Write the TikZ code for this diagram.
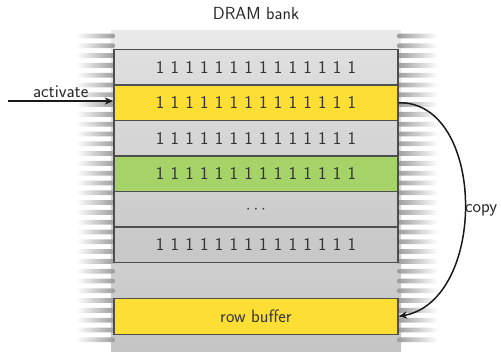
\documentclass[tikz,border=0pt]{standalone}
\usetikzlibrary{arrows.meta}
\definecolor{rowline}{RGB}{78,78,78}
\definecolor{rowyellow}{RGB}{253,222,52}
\definecolor{rowgreen}{RGB}{165,211,104}
\definecolor{banktop}{RGB}{234,234,234}
\definecolor{bankbottom}{RGB}{196,196,196}
\definecolor{stripe}{RGB}{155,155,155}
\newcommand\labelfont{\fontsize{18}{22}\selectfont\sffamily}
\newcommand\titlefont{\fontsize{17.5}{21}\selectfont\sffamily}
\newcommand\bitsfont{\labelfont\spaceskip=6.3pt\relax}
\begin{document}
\begin{tikzpicture}[x=1pt,y=-1pt,
  rowbox/.style={draw=rowline, line width=1.2pt, minimum width=284pt,
    minimum height=35.5pt, inner sep=0pt, font=\bitsfont, text=black!80},
  grayrow/.style={rowbox, fill=black, fill opacity=0.035, text opacity=1},
  yellowrow/.style={rowbox, fill=rowyellow},
  greenrow/.style={rowbox, fill=rowgreen},
  lbl/.style={font=\labelfont, inner sep=1pt, text=black!85},
  conn/.style={line width=1.5pt, black!90, -{Stealth[length=8.5pt,width=7pt,inset=2.5pt]}},
]
\useasboundingbox (0,0) rectangle (501,352);

% bank background
\node[minimum width=290pt, minimum height=321pt, inner sep=0pt,
  top color=banktop, bottom color=bankbottom, shading angle=0]
  (bank) at (256,191.5) {};

% wires entering the bank on both sides
\foreach \i in {0,...,31}{
  \pgfmathsetmacro{\yy}{36+9.8*\i}
  \shade[left color=white, right color=stripe, rounded corners=2.2pt]
    (76,\yy-2.4) rectangle (115,\yy+2.4);
  \shade[left color=stripe, right color=white, rounded corners=2.2pt]
    (397,\yy-2.4) rectangle (438,\yy+2.4);
}

% title
\node[lbl, font=\titlefont] (title) at (256,14) {DRAM bank};

% memory rows
\node[grayrow]   (r1) at (256,67.25)  {1 1 1 1 1 1 1 1 1 1 1 1 1 1};
\node[yellowrow] (r2) at (256,102.75) {1 1 1 1 1 1 1 1 1 1 1 1 1 1};
\node[grayrow]   (r3) at (256,138.25) {1 1 1 1 1 1 1 1 1 1 1 1 1 1};
\node[greenrow]  (r4) at (256,173.75) {1 1 1 1 1 1 1 1 1 1 1 1 1 1};
\node[grayrow]   (r5) at (256,209.25) {$\cdots$};
\node[grayrow]   (r6) at (256,244.75) {1 1 1 1 1 1 1 1 1 1 1 1 1 1};

% row buffer
\node[yellowrow, font=\labelfont] (buf) at (256,316.5) {row buffer};

% activate arrow
\coordinate (src) at (8,101);
\draw[conn] (src) -- (r2.west |- src) node[lbl, midway, above=2pt] (act) {activate};

% copy arrow
\draw[conn] (r2.east) .. controls (486,101) and (488,300) .. (buf.east);
\node[lbl, anchor=west] (copy) at (464,210) {copy};
\end{tikzpicture}
\end{document}
